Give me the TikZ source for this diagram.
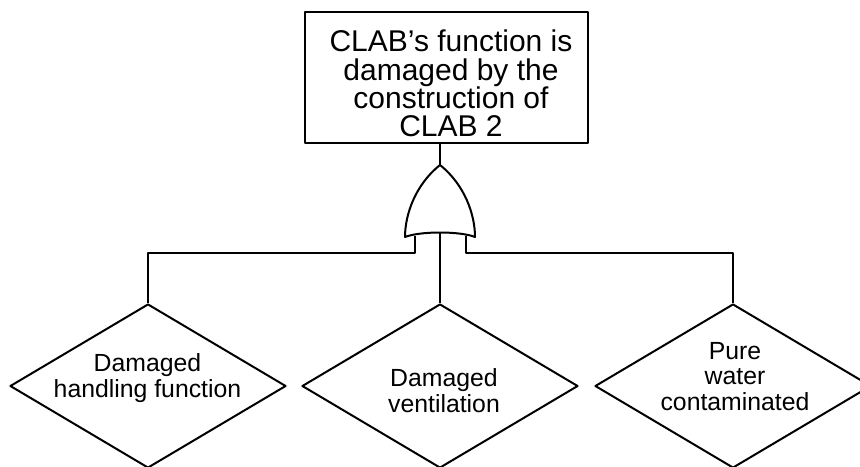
\documentclass[tikz,border=0pt]{standalone}
\usepackage{fontspec}
\setmainfont{Liberation Sans}
\usetikzlibrary{shapes.geometric}

\begin{document}
\begin{tikzpicture}[x=0.5pt,y=-0.5pt,line width=1pt,line join=round,
  topevent/.style={draw,rectangle,minimum width=141.5pt,minimum height=65.5pt,inner sep=0pt},
  basicevent/.style={draw,diamond,aspect=1.68,minimum width=138pt,minimum height=82pt,inner sep=0pt},
  toplabel/.style={align=center,inner sep=0pt,font=\fontsize{15}{14.15}\selectfont},
  basiclabel/.style={align=center,inner sep=0pt,font=\fontsize{12.4}{12.8}\selectfont}]

% page size
    \useasboundingbox (0,0) rectangle (860,466);
    \clip (0,0) rectangle (860,466);

% top event
    \node[topevent] (top) at (446.5,77.5) {};
    \node[toplabel] (toptext) at (451,83.5) {CLAB's function is\\damaged by the\\construction of\\CLAB 2};

% basic events
    \node[basicevent] (hand) at (148,386) {};
    \node[basicevent] (vent) at (440,386) {};
    \node[basicevent] (water) at (733,386) {};
    \node[basiclabel] (handtext) at (147.5,378) {Damaged\\handling function};
    \node[basiclabel] (venttext) at (444,390.5) {Damaged\\ventilation};
    \node[basiclabel] (watertext) at (735,376.5) {Pure\\water\\contaminated};

% OR gate points
    \coordinate (gtop) at (440,165);
    \coordinate (gout) at (440,232.5);
    \coordinate (gl) at (415,235.5);
    \coordinate (gr) at (466,235.5);
    \coordinate (bus) at (0,253);

% OR gate
    \draw (gtop) .. controls (465,185) and (475,215) .. (475,237)
      .. controls (460,231) and (420,231) .. (405,237)
      .. controls (405,215) and (415,185) .. cycle;

% connectors
    \draw (top.south -| gtop) -- (gtop);
    \draw (gl) -- (gl |- bus) -| (hand.north);
    \draw (gout) -- (vent.north);
    \draw (gr) -- (gr |- bus) -| (water.north);

\end{tikzpicture}
\end{document}
